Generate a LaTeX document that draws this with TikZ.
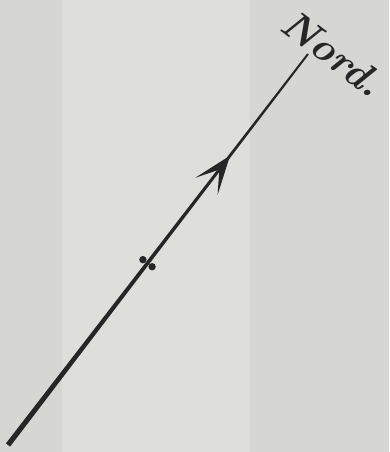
\documentclass[tikz,border=0pt]{standalone}
\usepackage{tikz}
\usetikzlibrary{arrows.meta,calc}

\definecolor{paper}{RGB}{214,214,211}
\definecolor{paperlight}{RGB}{222,222,219}
\definecolor{ink}{RGB}{38,38,38}

\begin{document}
\begin{tikzpicture}[
    x=0.02cm, y=-0.02cm,
    axis/.style={fill=ink},
    head/.style={draw=ink, fill=ink, line width=0.8pt,
                 -{Stealth[length=22pt, width=16pt, inset=12pt]}},
    spot/.style={circle, fill=ink, inner sep=0pt, minimum size=4.2pt},
    label/.style={text=ink, inner sep=1pt, font=\fontsize{23}{25}\selectfont\bfseries\itshape}
]
% paper
\useasboundingbox (0,0) rectangle (389,452);
\fill[paper] (0,0) rectangle (389,452);
\fill[paperlight] (62,0) rectangle (250,452);

% the line, thicker at the foot
\coordinate (foot) at (8,445);
\coordinate (top) at (308,54);
\fill[axis] ($(foot)!1.5pt!90:(top)$) -- ($(top)!0.55pt!-90:(foot)$)
    -- ($(top)!0.55pt!90:(foot)$) -- ($(foot)!1.5pt!-90:(top)$) -- cycle;

% arrow head
\coordinate (tail) at ($(foot)!0.66!(top)$);
\coordinate (tip) at ($(foot)!0.74!(top)$);
\draw[head] (tail) -- (tip);

% the two dots
\coordinate (mid) at ($(foot)!0.465!(top)$);
\node[spot] (d1) at ($(mid)!3.3pt!90:(top)$) {};
\node[spot] (d2) at ($(mid)!3.3pt!-90:(top)$) {};

\node[label, rotate=-37] (nord) at (333,53) {Nord.};
\end{tikzpicture}
\end{document}
